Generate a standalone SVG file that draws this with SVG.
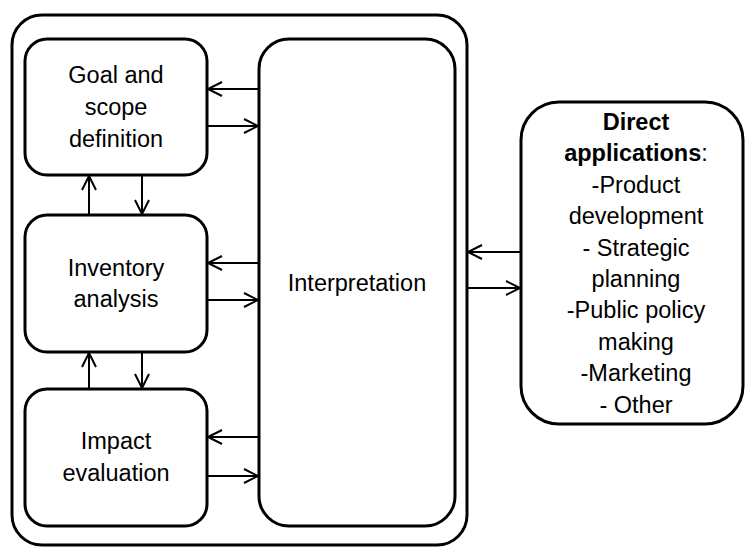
<svg xmlns="http://www.w3.org/2000/svg" width="745" height="547" viewBox="0 0 745 547">
<style>
.box{fill:#fff;stroke:#000;stroke-width:3}
.t{font-family:"Liberation Sans",Arial,sans-serif;font-size:23.5px;text-anchor:middle;fill:#000}
.b{font-weight:bold}
.c{stroke:#000;stroke-width:2;fill:none}
</style>
<defs>
<marker id="ah" markerUnits="userSpaceOnUse" markerWidth="20" markerHeight="20" viewBox="-16 -10 20 20" refX="0" refY="0" orient="auto">
<polyline points="-14,-7 0,0 -14,7" fill="none" stroke="#000" stroke-width="2"/>
</marker>
</defs>
<rect width="745" height="547" fill="#fff"/>
<g id="outer"><rect class="box" x="12" y="15" width="455" height="530" rx="30"/></g>
<g id="goal"><rect class="box" x="25" y="39" width="182" height="136" rx="22"/>
<text class="t" x="116" y="83">Goal and</text><text class="t" x="116" y="115">scope</text><text class="t" x="116" y="147">definition</text></g>
<g id="inventory"><rect class="box" x="25" y="215" width="182" height="137" rx="22"/>
<text class="t" x="116" y="276">Inventory</text><text class="t" x="116" y="307">analysis</text></g>
<g id="impact"><rect class="box" x="25" y="389" width="182" height="137" rx="22"/>
<text class="t" x="116" y="449">Impact</text><text class="t" x="116" y="481">evaluation</text></g>
<g id="interpretation"><rect class="box" x="259" y="39" width="196" height="487" rx="30"/>
<text class="t" x="357" y="291">Interpretation</text></g>
<g id="direct"><rect class="box" x="521" y="102" width="222" height="322" rx="38"/>
<text class="t" x="636" y="130"><tspan class="b">Direct</tspan></text>
<text class="t" x="636" y="161"><tspan class="b">applications</tspan>:</text>
<text class="t" x="636" y="193">-Product</text>
<text class="t" x="636" y="224">development</text>
<text class="t" x="636" y="256">- Strategic</text>
<text class="t" x="636" y="287">planning</text>
<text class="t" x="636" y="318">-Public policy</text>
<text class="t" x="636" y="350">making</text>
<text class="t" x="636" y="381">-Marketing</text>
<text class="t" x="636" y="413">- Other</text></g>
<g id="connectors">
<line class="c" x1="259" y1="89" x2="208" y2="89" marker-end="url(#ah)"/>
<line class="c" x1="207" y1="126" x2="258" y2="126" marker-end="url(#ah)"/>
<line class="c" x1="259" y1="263" x2="208" y2="263" marker-end="url(#ah)"/>
<line class="c" x1="207" y1="300" x2="258" y2="300" marker-end="url(#ah)"/>
<line class="c" x1="259" y1="437" x2="208" y2="437" marker-end="url(#ah)"/>
<line class="c" x1="207" y1="476" x2="258" y2="476" marker-end="url(#ah)"/>
<line class="c" x1="89" y1="215" x2="89" y2="176" marker-end="url(#ah)"/>
<line class="c" x1="142" y1="175" x2="142" y2="214" marker-end="url(#ah)"/>
<line class="c" x1="89" y1="389" x2="89" y2="353" marker-end="url(#ah)"/>
<line class="c" x1="142" y1="352" x2="142" y2="388" marker-end="url(#ah)"/>
<line class="c" x1="521" y1="252" x2="468" y2="252" marker-end="url(#ah)"/>
<line class="c" x1="467" y1="288" x2="520" y2="288" marker-end="url(#ah)"/>
</g>
</svg>
